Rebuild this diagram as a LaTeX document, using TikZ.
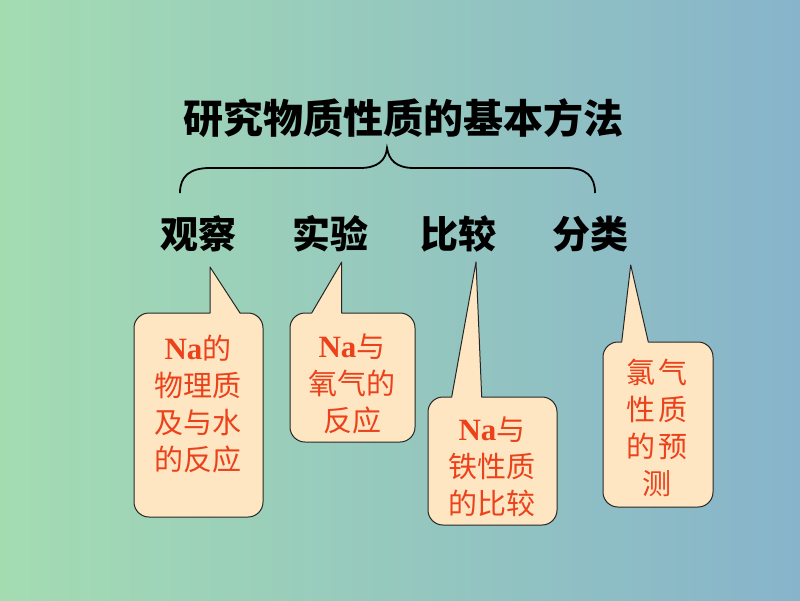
\documentclass[tikz,border=0pt]{standalone}
\usepackage{fontspec}
\setmainfont{Noto Sans CJK SC}
\newfontfamily\nafont{Liberation Serif}
\definecolor{bgL}{RGB}{164,220,178}
\definecolor{bgR}{RGB}{135,180,203}
\definecolor{boxfill}{RGB}{254,230,194}
\definecolor{txtred}{RGB}{236,66,28}
\newcommand{\mycallout}[8]{%
  \draw[callbox] (#5,#2) -- (#7,#8) -- (#6,#2) -- ({#3-15},#2)
    arc[start angle=90,end angle=0,radius=15pt] -- (#3,{#4-15})
    arc[start angle=0,end angle=-90,radius=15pt] -- ({#1+15},#4)
    arc[start angle=-90,end angle=-180,radius=15pt] -- (#1,{#2+15})
    arc[start angle=180,end angle=90,radius=15pt] -- cycle;}
\newcommand{\Na}{{\nafont\bfseries\fontsize{31}{37}\selectfont Na}}
\begin{document}
\begin{tikzpicture}[x=1pt,y=-1pt,
  callbox/.style={draw=black!85,line width=1pt,fill=boxfill,line join=round},
  boxtext/.style={text=txtred,align=center,inner sep=0pt,font=\fontsize{29}{37}\selectfont},
  word/.style={inner sep=0pt,font=\fontsize{38}{40}\selectfont\bfseries},
  bracestyle/.style={draw=black,line width=1.8pt}]
\shade[left color=bgL,right color=bgR] (0,0) rectangle (800,600);
\useasboundingbox (0,0) rectangle (800,600);

\node[inner sep=0pt,font=\fontsize{40}{42}\selectfont\bfseries] (title) at (403,118) {研究物质性质的基本方法};

\draw[bracestyle] (180,193) .. controls (180,176) and (190,168) .. (210,168) -- (360,168)
  .. controls (378,168) and (386,160) .. (387,148)
  .. controls (389,160) and (396,168) .. (414,168) -- (566,168)
  .. controls (586,168) and (595,176) .. (595,193);

\node[word] (w1) at (198,234) {观察};
\node[word] (w2) at (330,234) {实验};
\node[word] (w3) at (458,234) {比较};
\node[word] (w4) at (590,234) {分类};

\mycallout{134}{313}{263}{517}{210}{240}{210}{267}
\mycallout{290}{313}{415}{442}{311.7}{341.7}{341.7}{262}
\mycallout{428}{397}{557}{525}{451.7}{481.7}{476}{262}
\mycallout{603}{342}{713}{507}{621.7}{648.3}{630.7}{265}

\node[boxtext] (t1) at (198,404) {\Na 的\\物理质\\及与水\\的反应};
\node[boxtext] (t2) at (352,384) {\Na 与\\氧气的\\反应};
\node[boxtext] (t3) at (492,467) {\Na 与\\铁性质\\的比较};
\node[boxtext] (t4) at (657,428) {氯\hspace{4pt}气\\性\hspace{4pt}质\\的\hspace{4pt}预\\测};
\end{tikzpicture}
\end{document}
